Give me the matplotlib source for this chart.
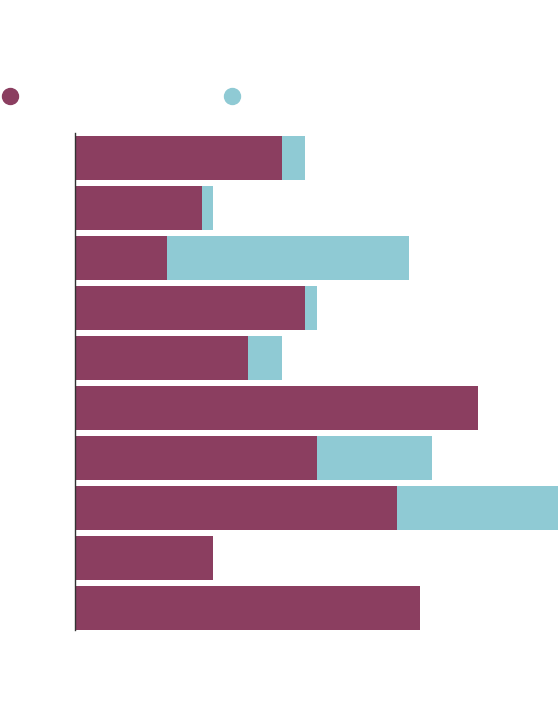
import matplotlib
matplotlib.use('Agg')
import matplotlib.pyplot as plt
from matplotlib.lines import Line2D

# Series values, rows from top to bottom
rows = list(range(10))
first = [18, 11, 8, 20, 15, 35, 21, 28, 12, 30]
second = [2, 1, 21, 1, 3, 0, 10, 14, 0, 0]

maroon = '#8b3e60'
teal = '#8fcad4'

fig = plt.figure(figsize=(5.6, 7.04), dpi=100)
ax = fig.add_axes([75 / 560, 74 / 704, 483 / 560, 497 / 704])

# Stacked horizontal bars
ax.barh(rows, first, height=0.88, color=maroon)
ax.barh(rows, second, left=first, height=0.88, color=teal)

ax.set_xlim(0, 42)
ax.set_ylim(9.45, -0.49)

# Only the left spine, no ticks or labels
for side in ['top', 'right', 'bottom']:
    ax.spines[side].set_visible(False)
ax.spines['left'].set_color('#333333')
ax.spines['left'].set_linewidth(1.0)
ax.set_xticks([])
ax.set_yticks([])

# Legend dots
for x, c in [(10, maroon), (232, teal)]:
    fig.add_artist(Line2D([x / 560], [1 - 96 / 704], marker='o',
                          markersize=11.5, color=c, linestyle='none',
                          transform=fig.transFigure))

fig.savefig('out.png', dpi=100)
